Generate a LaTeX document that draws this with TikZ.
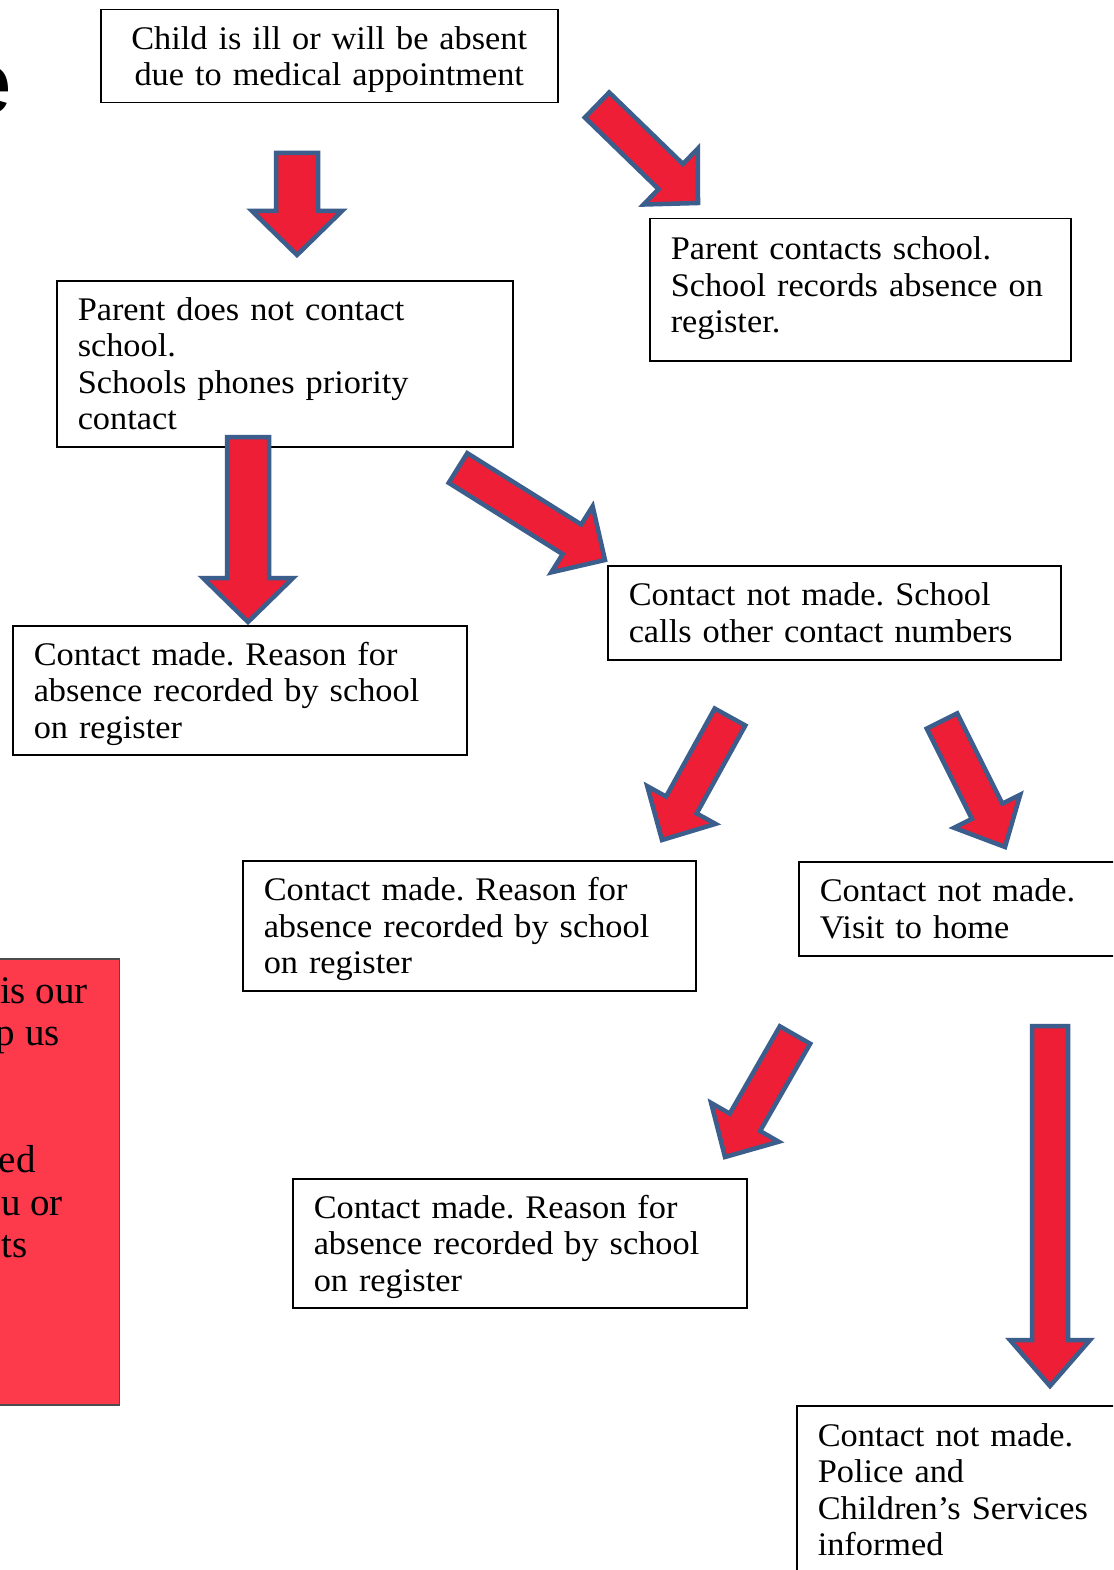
\documentclass[tikz,border=0pt]{standalone}
\usepackage{fontspec}
\setmainfont{Liberation Serif}[FakeStretch=1.04, WordSpace=0.85]
\newfontfamily\notefont{Liberation Serif}
\newfontfamily\headfont{Liberation Sans}
\frenchspacing
\usetikzlibrary{calc}
\definecolor{arrowred}{RGB}{237,30,54}
\definecolor{arrowblue}{RGB}{60,94,140}
\definecolor{notered}{RGB}{252,58,76}
\tikzset{
  flowbox/.style={draw=black, line width=1.5pt, fill=white, anchor=north west,
    inner xsep=21pt, inner ysep=0pt, align=left, font=\fontsize{33}{36.5}\selectfont,
    execute at begin node={\rule{0pt}{33pt}},
    execute at end node={\rule[-10.5pt]{0pt}{0pt}}},
  barrowstyle/.style={draw=arrowblue, fill=arrowred, line width=4.5pt, line join=miter, miter limit=4}
}
% #1 tail, #2 tip, #3 half shaft width, #4 half head width, #5 head length
\newcommand\blockarrow[5]{%
  \coordinate (#1-neck) at ($(#2)!#5!(#1)$);
  \draw[barrowstyle] ($(#1)!#3!90:(#2)$) -- ($(#1-neck)!#3!-90:(#1)$)
    -- ($(#1-neck)!#4!-90:(#1)$) -- (#2) -- ($(#1-neck)!#4!90:(#1)$)
    -- ($(#1-neck)!#3!90:(#1)$) -- ($(#1)!#3!-90:(#2)$) -- cycle;
}
\begin{document}
\begin{tikzpicture}[x=1pt,y=-1pt]
\useasboundingbox (0,0) rectangle (1113,1570);
\clip (0,0) rectangle (1113,1570);
\fill[white] (0,0) rectangle (1113,1570);

% partial title letter
\node[font=\headfont\fontsize{88}{90}\selectfont, anchor=base east, inner sep=0pt] (title) at (13,114) {e};

% red note box (mostly off the page)
\node[draw=black!70, line width=1.5pt, fill=notered, minimum width=300pt, minimum height=446pt,
  anchor=north east, inner sep=0pt] (note) at (120,958) {};
\begin{scope}[font=\notefont\fontsize{39}{42}\selectfont]
\node[anchor=base east, inner sep=0pt] (n1) at (88,1003) {is our};
\node[anchor=base east, inner sep=0pt] (n2) at (60,1045) {p us};
\node[anchor=base east, inner sep=0pt] (n3) at (36,1172) {ed};
\node[anchor=base east, inner sep=0pt] (n4) at (63,1215) {u or};
\node[anchor=base east, inner sep=0pt] (n5) at (28,1257) {ts};
\end{scope}

% boxes
\node[flowbox, align=center, text width=415pt, minimum height=93pt] (b1) at (100,9)
  {Child is ill or will be absent\\due to medical appointment};
\node[flowbox, text width=379pt, minimum height=142pt] (b2) at (649,218)
  {Parent contacts school.\\School records absence on\\register.\rule[-20.5pt]{0pt}{0pt}};
\node[flowbox, text width=414pt, minimum height=166pt] (b3) at (56,280)
  {Parent does not contact\\school.\\Schools phones priority\\contact};
\node[flowbox, text width=412pt, minimum height=129pt] (b4) at (12,625)
  {Contact made. Reason for\\absence recorded by school\\on register};
\node[flowbox, text width=411pt, minimum height=94pt] (b5) at (607,565)
  {Contact not made. School\\calls other contact numbers};
\node[flowbox, text width=411pt, minimum height=130pt] (b6) at (242,860)
  {Contact made. Reason for\\absence recorded by school\\on register};
\node[flowbox, text width=300pt, minimum height=94pt] (b7) at (798,861)
  {Contact not made.\\Visit to home};
\node[flowbox, text width=412pt, minimum height=129pt] (b8) at (292,1178)
  {Contact made. Reason for\\absence recorded by school\\on register};
\node[flowbox, text width=300pt, minimum height=168pt] (b9) at (796,1405)
  {Contact not made.\\Police and\\Children’s Services\\informed};

% block arrows
\coordinate (a1) at (297,153);  \coordinate (a1h) at (297,255);
\coordinate (a2) at (597,105);  \coordinate (a2h) at (698,203);
\coordinate (a3) at (248,437);  \coordinate (a3h) at (248,622);
\coordinate (a4) at (458,468);  \coordinate (a4h) at (605,560);
\coordinate (a5) at (730,717);  \coordinate (a5h) at (662,840);
\coordinate (a6) at (942,721);  \coordinate (a6h) at (1005,847);
\coordinate (a7) at (795,1035); \coordinate (a7h) at (725,1157);
\coordinate (a8) at (1050,1026); \coordinate (a8h) at (1050,1386);
\blockarrow{a1}{a1h}{21pt}{45pt}{44pt}
\blockarrow{a2}{a2h}{17.5pt}{39pt}{38pt}
\blockarrow{a3}{a3h}{21pt}{45pt}{44pt}
\blockarrow{a4}{a4h}{17.5pt}{39pt}{39pt}
\blockarrow{a5}{a5h}{17.5pt}{39pt}{40pt}
\blockarrow{a6}{a6h}{17pt}{37pt}{40pt}
\blockarrow{a7}{a7h}{17.5pt}{39pt}{40pt}
\blockarrow{a8}{a8h}{18pt}{40pt}{46pt}
\end{tikzpicture}
\end{document}
